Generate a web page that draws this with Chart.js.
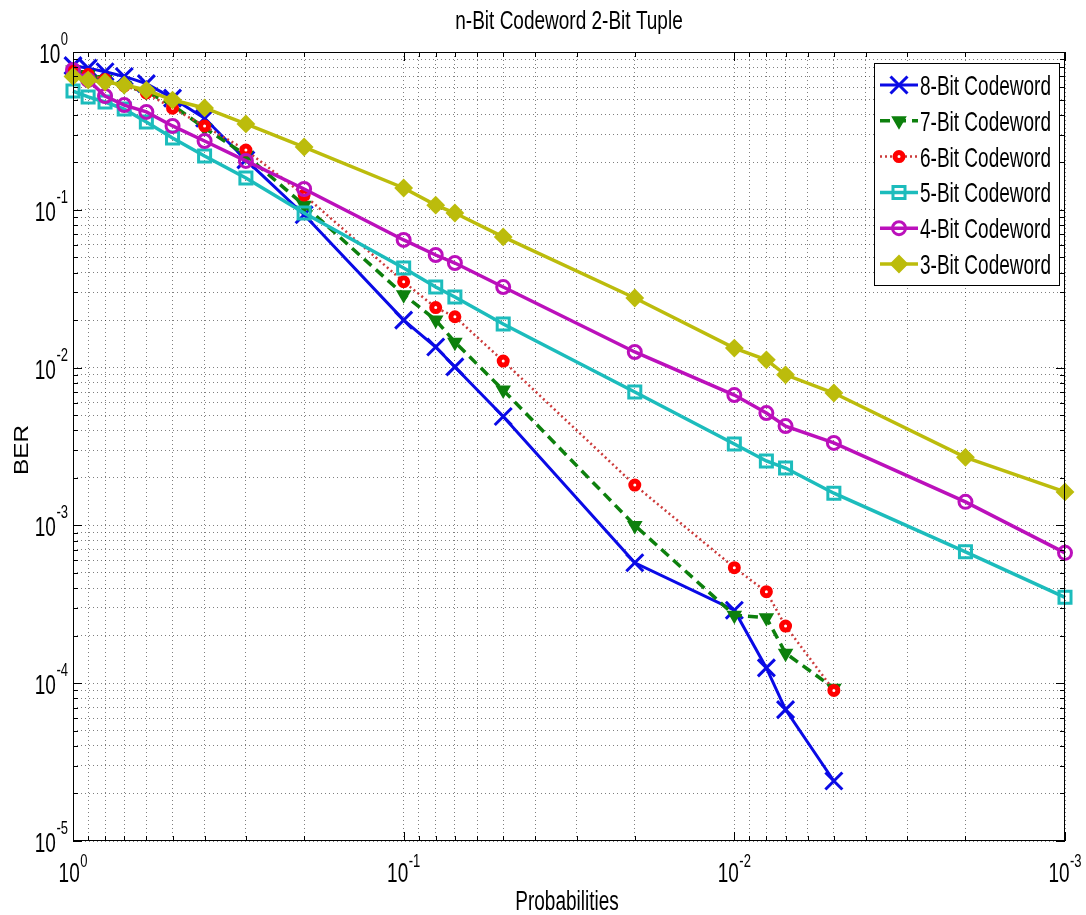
<!DOCTYPE html>
<html>
<head>
<meta charset="utf-8">
<script src="https://cdn.jsdelivr.net/npm/chart.js@4/dist/chart.umd.min.js"></script>
<style>
  html, body { margin: 0; padding: 0; background: #fff; }
  #wrap { width: 1086px; height: 915px; }
</style>
</head>
<body>
<div id="wrap"><canvas id="berChart" width="1086" height="915"></canvas></div>
<script>
// x values (probabilities), shared by every series
var probabilities = [1, 0.9, 0.8, 0.7, 0.6, 0.5, 0.4, 0.3, 0.2, 0.1, 0.08, 0.07, 0.05, 0.02, 0.01, 0.008, 0.007, 0.005, 0.002, 0.001];

// BER per codeword length (8/7/6-bit stop at 0.005)
var ber8 = [0.82, 0.79, 0.75, 0.70, 0.63, 0.51, 0.38, 0.207, 0.093, 0.020, 0.0135, 0.0101, 0.0049, 5.8e-4, 2.9e-4, 1.25e-4, 6.8e-5, 2.4e-5];
var ber7 = [0.77, 0.72, 0.67, 0.61, 0.56, 0.46, 0.33, 0.222, 0.107, 0.029, 0.020, 0.0145, 0.0072, 1.0e-3, 2.7e-4, 2.6e-4, 1.55e-4, 9.3e-5];
var ber6 = [0.77, 0.72, 0.67, 0.61, 0.55, 0.44, 0.34, 0.239, 0.124, 0.035, 0.024, 0.021, 0.011, 1.8e-3, 5.4e-4, 3.8e-4, 2.3e-4, 9.0e-5];
var ber5 = [0.566, 0.519, 0.482, 0.435, 0.36, 0.285, 0.219, 0.159, 0.0954, 0.0428, 0.0324, 0.028, 0.0189, 0.0070, 0.00328, 0.00256, 0.00231, 0.0016, 6.8e-4, 3.5e-4];
var ber4 = [0.769, 0.665, 0.526, 0.461, 0.417, 0.340, 0.273, 0.204, 0.1355, 0.0644, 0.0517, 0.046, 0.0324, 0.01256, 0.0067, 0.00515, 0.00426, 0.00333, 0.00141, 6.7e-4];
var ber3 = [0.70, 0.665, 0.645, 0.618, 0.574, 0.496, 0.442, 0.35, 0.25, 0.1375, 0.107, 0.0954, 0.0673, 0.0276, 0.0133, 0.0112, 0.009, 0.0069, 0.0027, 0.00163];

var seriesLabels = ['8-Bit Codeword', '7-Bit Codeword', '6-Bit Codeword', '5-Bit Codeword', '4-Bit Codeword', '3-Bit Codeword'];

// decade tick labels: 10^exp
var xTickValues = [1, 0.1, 0.01, 0.001];
var xTickExps = ['0', '-1', '-2', '-3'];
var yTickValues = [1, 0.1, 0.01, 0.001, 0.0001, 0.00001];
var yTickExps = ['0', '-1', '-2', '-3', '-4', '-5'];

var FONT = '"Liberation Sans", Arial, sans-serif';

function toPoints(values) {
  return values.map(function(v, i) { return { x: probabilities[i], y: v }; });
}

function makeSet(label, values, style, order) {
  return Object.assign({
    label: label,
    data: toPoints(values),
    order: order,
    clip: false,
    fill: false,
    tension: 0
  }, style);
}

var styles = [
  { borderColor: '#0a0ae6', borderWidth: 3, pointStyle: 'crossRot', pointRadius: 12, pointBorderWidth: 3,
    pointBorderColor: '#0a0ae6', pointBackgroundColor: '#0a0ae6' },
  { borderColor: '#0d800d', borderWidth: 3.5, borderDash: [10, 6], pointStyle: 'triangle', pointRotation: 180,
    pointRadius: 7, pointBorderWidth: 2, pointBorderColor: '#0d800d', pointBackgroundColor: '#0d800d' },
  { borderColor: '#cc3a3a', borderWidth: 2.5, borderDash: [2, 3], pointStyle: 'circle', pointRadius: 4,
    pointBorderWidth: 5, pointBorderColor: '#ff0000', pointBackgroundColor: '#ffffff' },
  { borderColor: '#1cbcbc', borderWidth: 3.5, pointStyle: 'rect', pointRadius: 8.5, pointBorderWidth: 3,
    pointBorderColor: '#1cbcbc', pointBackgroundColor: 'rgba(0,0,0,0)' },
  { borderColor: '#bb10bb', borderWidth: 3.5, pointStyle: 'circle', pointRadius: 6.5, pointBorderWidth: 3,
    pointBorderColor: '#bb10bb', pointBackgroundColor: 'rgba(0,0,0,0)' },
  { borderColor: '#bcbc0c', borderWidth: 3.5, pointStyle: 'rectRot', pointRadius: 8, pointBorderWidth: 2,
    pointBorderColor: '#bcbc0c', pointBackgroundColor: '#bcbc0c' }
];

var allValues = [ber8, ber7, ber6, ber5, ber4, ber3];
var datasets = allValues.map(function(vals, i) {
  return makeSet(seriesLabels[i], vals, styles[i], 6 - i);
});

// every 1..9 x 10^n inside the axis range, for the minor grid
function logTicks(scale) {
  var out = [];
  var lo = Math.floor(Math.log10(scale.min) + 1e-9);
  var hi = Math.ceil(Math.log10(scale.max) - 1e-9);
  for (var e = lo; e <= hi; e++) {
    for (var k = 1; k <= 9; k++) {
      var v = k * Math.pow(10, e);
      if (v >= scale.min * 0.999 && v <= scale.max * 1.001) out.push({ value: v });
    }
  }
  scale.ticks = out;
}

function isDecade(v) {
  var l = Math.log10(v);
  return Math.abs(l - Math.round(l)) < 1e-6;
}

function tallText(ctx, text, x, y, size, align, sy) {
  ctx.save();
  ctx.font = size + 'px ' + FONT;
  ctx.textAlign = align;
  ctx.textBaseline = 'alphabetic';
  ctx.translate(x, y);
  ctx.scale(1, sy);
  ctx.fillText(text, 0, 0);
  ctx.restore();
}

function powerLabel(ctx, exp, left, base, supBase) {
  ctx.font = '19px ' + FONT;
  var w1 = ctx.measureText('10').width;
  tallText(ctx, '10', left, base, 19, 'left', 1.45);
  tallText(ctx, exp, left + w1 + 0.5, supBase, 13, 'left', 1.4);
}

function labelWidth(ctx, exp) {
  ctx.font = '19px ' + FONT;
  var w1 = ctx.measureText('10').width;
  ctx.font = '13px ' + FONT;
  return w1 + 0.5 + ctx.measureText(exp).width;
}

var matlabFrame = {
  id: 'matlabFrame',
  afterDraw: function(chart) {
    var ctx = chart.ctx;
    var a = chart.chartArea;
    var xs = chart.scales.x, ys = chart.scales.y;
    ctx.save();
    ctx.fillStyle = '#000';
    ctx.strokeStyle = '#000';
    ctx.lineWidth = 1;

    // axes box
    ctx.strokeRect(Math.round(a.left) + 0.5, Math.round(a.top) + 0.5,
      Math.round(a.right - a.left) - 1, Math.round(a.bottom - a.top) - 1);

    // inward tick marks on all four sides
    ctx.beginPath();
    xs.ticks.forEach(function(t) {
      var px = Math.round(xs.getPixelForValue(t.value)) + 0.5;
      var len = isDecade(t.value) ? 9 : 5;
      ctx.moveTo(px, a.bottom); ctx.lineTo(px, a.bottom - len);
      ctx.moveTo(px, a.top); ctx.lineTo(px, a.top + len);
    });
    ys.ticks.forEach(function(t) {
      var py = Math.round(ys.getPixelForValue(t.value)) + 0.5;
      var len = isDecade(t.value) ? 9 : 5;
      ctx.moveTo(a.left, py); ctx.lineTo(a.left + len, py);
      ctx.moveTo(a.right, py); ctx.lineTo(a.right - len, py);
    });
    ctx.stroke();

    // tick labels 10^n
    xTickValues.forEach(function(v, i) {
      var px = xs.getPixelForValue(v);
      var w = labelWidth(ctx, xTickExps[i]);
      powerLabel(ctx, xTickExps[i], px - w / 2, a.bottom + 41, a.bottom + 26);
    });
    yTickValues.forEach(function(v, i) {
      var py = ys.getPixelForValue(v);
      var w = labelWidth(ctx, yTickExps[i]);
      powerLabel(ctx, yTickExps[i], a.left - 5 - w, py + 11, py - 7);
    });

    // title and axis titles
    var cx = (a.left + a.right) / 2;
    tallText(ctx, 'n-Bit Codeword 2-Bit Tuple', cx, 29, 19, 'center', 1.35);
    tallText(ctx, 'Probabilities', cx - 2, 910, 19, 'center', 1.45);
    ctx.save();
    ctx.translate(28, 450);
    ctx.rotate(-Math.PI / 2);
    ctx.scale(1.22, 1);
    ctx.font = '20px ' + FONT;
    ctx.textAlign = 'center';
    ctx.fillText('BER', 0, 0);
    ctx.restore();

    // legend box
    var lx = 874, ly = 63, lw = 185, lh = 222;
    ctx.fillStyle = '#fff';
    ctx.fillRect(lx, ly, lw, lh);
    ctx.strokeStyle = '#000';
    ctx.strokeRect(lx + 0.5, ly + 0.5, lw, lh);
    datasets.forEach(function(ds, i) {
      var cy = 85 + i * 35.8;
      ctx.save();
      ctx.strokeStyle = ds.borderColor;
      ctx.lineWidth = ds.borderWidth;
      ctx.setLineDash(ds.borderDash || []);
      ctx.beginPath();
      ctx.moveTo(880, cy);
      ctx.lineTo(918, cy);
      ctx.stroke();
      ctx.restore();
      ctx.save();
      ctx.strokeStyle = ds.pointBorderColor;
      ctx.fillStyle = ds.pointBackgroundColor;
      ctx.lineWidth = ds.pointBorderWidth;
      Chart.helpers.drawPoint(ctx, {
        pointStyle: ds.pointStyle,
        rotation: ds.pointRotation || 0,
        radius: ds.pointRadius,
        borderWidth: ds.pointBorderWidth
      }, 899, cy);
      ctx.restore();
      ctx.fillStyle = '#000';
      tallText(ctx, ds.label, 920, cy + 10, 19, 'left', 1.45);
    });
    ctx.restore();
  }
};

var gridOpts = { color: 'rgba(0,0,0,0.5)', lineWidth: 1, drawTicks: false };

var chart = new Chart(document.getElementById('berChart').getContext('2d'), {
  type: 'line',
  data: { datasets: datasets },
  options: {
    responsive: false,
    animation: false,
    events: [],
    layout: { padding: { left: 73, top: 52, right: 21, bottom: 74 } },
    plugins: { legend: { display: false }, title: { display: false }, tooltip: { enabled: false } },
    scales: {
      x: {
        type: 'logarithmic', reverse: true, min: 0.001, max: 1,
        afterBuildTicks: logTicks,
        ticks: { display: false },
        grid: gridOpts,
        border: { display: false, dash: [1, 3] }
      },
      y: {
        type: 'logarithmic', min: 0.00001, max: 1,
        afterBuildTicks: logTicks,
        ticks: { display: false },
        grid: gridOpts,
        border: { display: false, dash: [1, 3] }
      }
    }
  },
  plugins: [matlabFrame]
});
</script>
</body>
</html>
